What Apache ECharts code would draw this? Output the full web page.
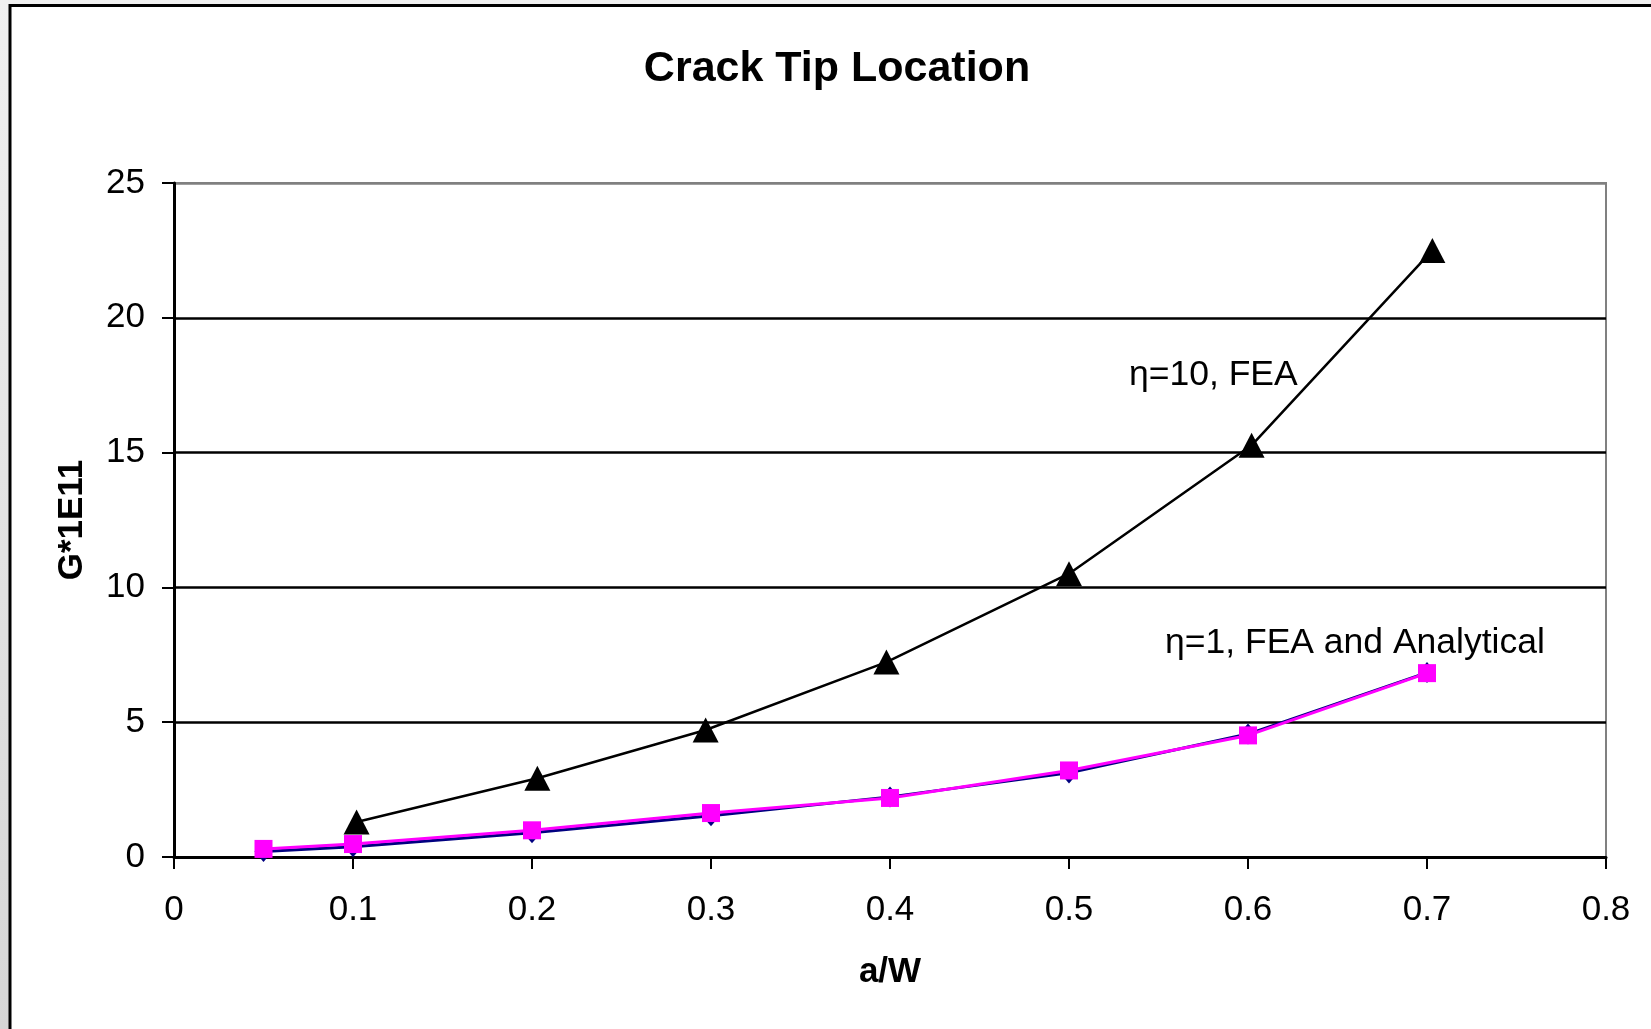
<!DOCTYPE html>
<html>
<head>
<meta charset="utf-8">
<script src="https://cdn.jsdelivr.net/npm/echarts@6/dist/echarts.min.js"></script>
<style>
html, body { margin: 0; padding: 0; overflow: hidden; background: #fff; }
#chart { width: 1651px; height: 1029px; }
</style>
</head>
<body>
<div id="chart"></div>
<script>
// Strain energy release rate vs. relative crack length
const titleText = 'Crack Tip Location';
const xAxisName = 'a/W';
const yAxisName = 'G*1E11';
const xTickMin = 0, xTickMax = 0.8, xTickStep = 0.1;
const yTickMin = 0, yTickMax = 25, yTickStep = 5;

// eta = 10, finite element results
const fea10X = [0.102, 0.203, 0.297, 0.398, 0.500, 0.602, 0.703];
const fea10G = [1.3, 2.92, 4.71, 7.23, 10.51, 15.27, 22.5];

// eta = 1, finite element and analytical results
const eta1X = [0.05, 0.1, 0.2, 0.3, 0.4, 0.5, 0.6, 0.7];
const fea1G = [0.2, 0.38, 0.9, 1.53, 2.23, 3.12, 4.56, 6.84];
const analytical1G = [0.3, 0.48, 0.99, 1.63, 2.19, 3.21, 4.51, 6.82];

const labelFea10 = 'η=10, FEA';
const labelEta1 = 'η=1, FEA and Analytical';

const FONT = '"Liberation Sans", Arial, Helvetica, sans-serif';
const pairs = (xs, ys) => xs.map((x, i) => [x, ys[i]]);

const chart = echarts.init(document.getElementById('chart'), null, { renderer: 'canvas' });

chart.setOption({
  animation: false,
  backgroundColor: {
    type: 'linear', x: 0, y: 0, x2: 0, y2: 1,
    colorStops: [{ offset: 0, color: '#f0f0f0' }, { offset: 1, color: '#d6d6d6' }]
  },
  title: {
    text: titleText,
    left: 832, top: 43, textAlign: 'center',
    textStyle: { fontFamily: FONT, fontSize: 43, fontWeight: 'bold', color: '#000' }
  },
  graphic: [
    {
      type: 'rect', z: -100, silent: true,
      shape: { x: 10, y: 5.5, width: 1800, height: 1200 },
      style: { fill: '#fff', stroke: '#000', lineWidth: 3 }
    },
    {
      type: 'text', z: 10, silent: true, x: 1129, y: 375,
      style: { text: labelFea10, fontFamily: FONT, fontSize: 35.5, fill: '#000', verticalAlign: 'middle' }
    },
    {
      type: 'text', z: 10, silent: true, x: 1165, y: 643,
      style: { text: labelEta1, fontFamily: FONT, fontSize: 35.5, fill: '#000', verticalAlign: 'middle' }
    }
  ],
  grid: {
    left: 174, right: 45, top: 183, bottom: 172,
    show: true, borderColor: '#808080', borderWidth: 2, backgroundColor: '#fff'
  },
  xAxis: {
    type: 'value',
    min: xTickMin, max: xTickMax, interval: xTickStep,
    name: xAxisName, nameLocation: 'middle', nameGap: 98,
    nameTextStyle: { fontFamily: FONT, fontSize: 35, fontWeight: 'bold', color: '#000' },
    axisLine: { show: true, lineStyle: { color: '#000', width: 3 } },
    axisTick: { show: true, length: 12, lineStyle: { color: '#000', width: 2 } },
    axisLabel: { fontFamily: FONT, fontSize: 35, color: '#000', margin: 36 },
    splitLine: { show: false }
  },
  yAxis: {
    type: 'value',
    min: yTickMin, max: yTickMax, interval: yTickStep,
    name: yAxisName, nameLocation: 'middle', nameGap: 84,
    nameTextStyle: { fontFamily: FONT, fontSize: 35, fontWeight: 'bold', color: '#000' },
    axisLine: { show: true, lineStyle: { color: '#000', width: 3 } },
    axisTick: { show: true, length: 12, lineStyle: { color: '#000', width: 2 } },
    axisLabel: { fontFamily: FONT, fontSize: 35, color: '#000', margin: 29 },
    splitLine: {
      show: true,
      lineStyle: { color: ['#000', '#000', '#000', '#000', '#000', '#808080'], width: 2.5 }
    }
  },
  series: [
    {
      name: 'η=1, FEA',
      type: 'line',
      data: pairs(eta1X, fea1G),
      symbol: 'diamond', symbolSize: [18, 21],
      itemStyle: { color: '#000080' },
      lineStyle: { color: '#000080', width: 3 },
      z: 3
    },
    {
      name: 'η=1, Analytical',
      type: 'line',
      data: pairs(eta1X, analytical1G),
      symbol: 'rect', symbolSize: 18,
      itemStyle: { color: '#ff00ff' },
      lineStyle: { color: '#ff00ff', width: 3 },
      z: 4
    },
    {
      name: 'η=10, FEA',
      type: 'line',
      data: pairs(fea10X, fea10G),
      symbol: 'triangle', symbolSize: [26, 25],
      itemStyle: { color: '#000' },
      lineStyle: { color: '#000', width: 2.5 },
      z: 5
    }
  ]
});
</script>
</body>
</html>
